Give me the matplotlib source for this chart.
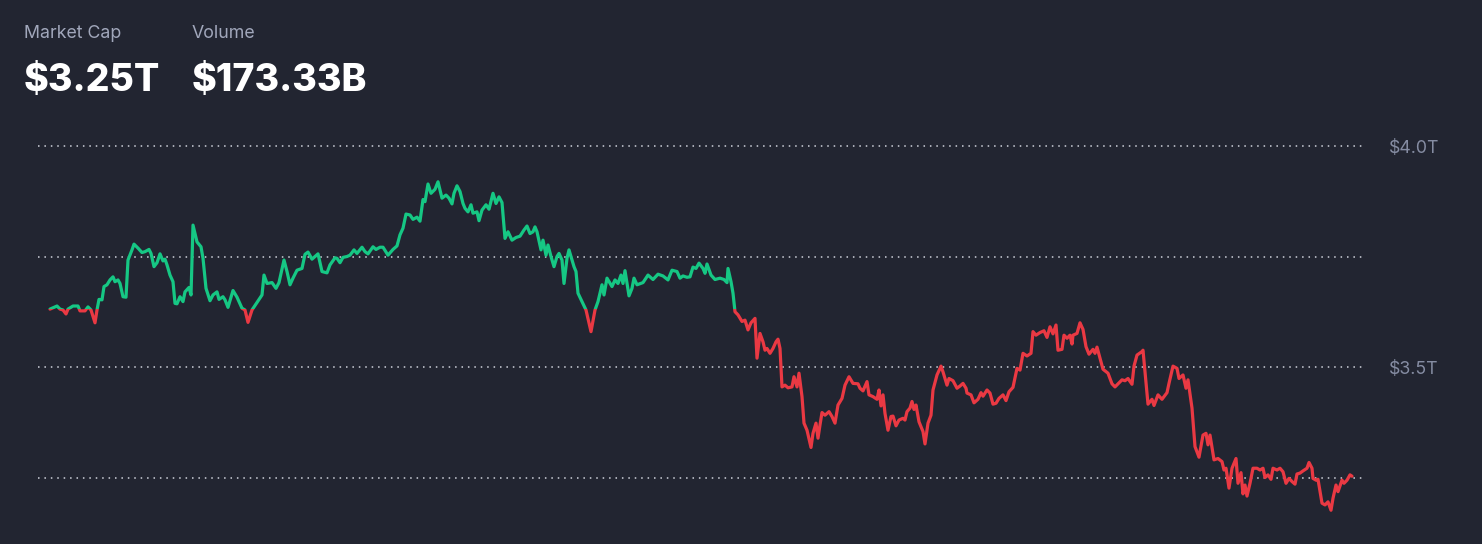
import matplotlib
matplotlib.use("Agg")
import matplotlib.pyplot as plt
from matplotlib.patches import Rectangle

# ---- data (time step index, market cap in billions USD) ----
t = [0, 7, 10, 13, 16, 18, 23, 28, 30, 35, 38, 41, 45, 47, 49, 52, 54, 57, 60, 63, 65, 68, 70, 73, 76, 78, 82, 84, 88, 92, 95, 99, 101, 104, 107, 110, 113, 115, 117, 120, 123, 125, 127, 130, 133, 135, 139, 141, 143, 147, 151, 153, 156, 160, 163, 167, 169, 173, 175, 178, 183, 187, 189, 192, 195, 198, 202, 207, 212, 214, 217, 222, 226, 229, 234, 237, 240, 243, 247, 252, 255, 258, 262, 265, 268, 272, 277, 280, 285, 287, 290, 293, 297, 300, 304, 307, 312, 315, 318, 323, 326, 330, 333, 338, 343, 347, 350, 353, 356, 360, 363, 367, 370, 373, 375, 378, 381, 385, 388, 392, 396, 399, 402, 404, 407, 410, 413, 415, 418, 421, 423, 427, 429, 432, 436, 439, 443, 446, 449, 452, 455, 458, 462, 466, 470, 474, 477, 480, 483, 485, 487, 491, 493, 496, 498, 501, 504, 507, 509, 512, 514, 517, 519, 522, 524, 526, 528, 532, 534, 536, 541, 545, 548, 552, 554, 557, 562, 565, 568, 571, 573, 575, 579, 582, 584, 587, 593, 598, 603, 608, 613, 618, 622, 627, 630, 633, 637, 640, 643, 646, 649, 653, 655, 657, 661, 665, 670, 674, 677, 678, 681, 683, 685, 688, 692, 695, 698, 701, 705, 707, 710, 713, 715, 717, 720, 723, 726, 728, 730, 732, 735, 738, 742, 744, 747, 749, 752, 754, 757, 761, 763, 766, 768, 770, 772, 775, 779, 782, 785, 788, 792, 795, 799, 803, 808, 810, 813, 817, 819, 823, 827, 829, 831, 833, 835, 838, 841, 843, 846, 849, 853, 855, 857, 860, 862, 864, 866, 869, 873, 875, 878, 881, 883, 887, 891, 893, 897, 899, 903, 907, 910, 913, 916, 917, 921, 924, 928, 931, 933, 937, 940, 943, 946, 949, 953, 956, 959, 963, 967, 970, 973, 977, 981, 983, 986, 990, 994, 997, 1000, 1003, 1006, 1008, 1012, 1014, 1017, 1020, 1022, 1023, 1027, 1030, 1033, 1036, 1039, 1043, 1045, 1047, 1050, 1053, 1058, 1062, 1065, 1068, 1072, 1075, 1078, 1082, 1084, 1087, 1092, 1093, 1098, 1102, 1104, 1108, 1112, 1117, 1119, 1123, 1127, 1129, 1133, 1136, 1138, 1142, 1145, 1149, 1153, 1156, 1158, 1160, 1164, 1168, 1172, 1174, 1176, 1179, 1182, 1186, 1188, 1191, 1193, 1195, 1197, 1200, 1203, 1207, 1210, 1213, 1215, 1218, 1221, 1223, 1227, 1230, 1233, 1236, 1239, 1242, 1245, 1247, 1250, 1253, 1257, 1259, 1262, 1263, 1266, 1268, 1272, 1275, 1278, 1281, 1283, 1286, 1288, 1292, 1294, 1297, 1300, 1302]
cap_b = [3631, 3638, 3631, 3629, 3620, 3631, 3638, 3638, 3627, 3627, 3636, 3629, 3600, 3629, 3653, 3652, 3682, 3686, 3697, 3704, 3693, 3697, 3689, 3659, 3658, 3742, 3765, 3778, 3769, 3759, 3761, 3766, 3757, 3727, 3736, 3756, 3740, 3744, 3731, 3708, 3693, 3644, 3643, 3659, 3648, 3670, 3680, 3663, 3821, 3783, 3772, 3746, 3678, 3650, 3663, 3670, 3653, 3659, 3652, 3635, 3673, 3658, 3648, 3633, 3629, 3601, 3629, 3646, 3663, 3708, 3689, 3691, 3678, 3691, 3742, 3716, 3686, 3701, 3719, 3723, 3755, 3760, 3744, 3750, 3756, 3716, 3713, 3731, 3747, 3746, 3736, 3748, 3750, 3753, 3765, 3757, 3771, 3761, 3756, 3772, 3766, 3771, 3771, 3753, 3766, 3774, 3799, 3814, 3846, 3844, 3834, 3839, 3830, 3879, 3874, 3914, 3893, 3902, 3919, 3882, 3889, 3882, 3869, 3893, 3910, 3897, 3870, 3859, 3851, 3867, 3848, 3851, 3831, 3855, 3867, 3857, 3893, 3870, 3885, 3872, 3791, 3806, 3787, 3793, 3796, 3810, 3819, 3802, 3806, 3817, 3806, 3765, 3787, 3753, 3776, 3750, 3727, 3750, 3757, 3742, 3689, 3746, 3765, 3742, 3727, 3716, 3667, 3648, 3638, 3629, 3580, 3629, 3648, 3686, 3663, 3701, 3682, 3697, 3689, 3708, 3689, 3718, 3661, 3678, 3701, 3686, 3691, 3708, 3698, 3710, 3706, 3697, 3719, 3716, 3701, 3706, 3703, 3704, 3726, 3723, 3735, 3723, 3712, 3733, 3708, 3698, 3701, 3698, 3691, 3723, 3693, 3667, 3625, 3618, 3603, 3606, 3584, 3600, 3610, 3520, 3576, 3557, 3538, 3542, 3531, 3542, 3557, 3563, 3542, 3455, 3459, 3453, 3455, 3478, 3455, 3486, 3433, 3373, 3357, 3318, 3350, 3373, 3339, 3369, 3397, 3391, 3399, 3388, 3373, 3414, 3429, 3459, 3478, 3463, 3462, 3452, 3446, 3467, 3437, 3433, 3427, 3448, 3412, 3437, 3395, 3357, 3388, 3389, 3367, 3380, 3384, 3380, 3399, 3407, 3422, 3404, 3414, 3376, 3354, 3326, 3373, 3391, 3448, 3482, 3502, 3489, 3459, 3474, 3469, 3452, 3457, 3463, 3452, 3441, 3437, 3419, 3427, 3442, 3434, 3448, 3441, 3416, 3418, 3429, 3437, 3424, 3444, 3454, 3497, 3493, 3531, 3525, 3531, 3580, 3572, 3578, 3582, 3567, 3591, 3575, 3595, 3538, 3540, 3572, 3565, 3572, 3552, 3572, 3576, 3600, 3585, 3546, 3529, 3540, 3531, 3545, 3520, 3495, 3486, 3462, 3455, 3462, 3471, 3469, 3474, 3461, 3502, 3527, 3535, 3538, 3416, 3427, 3413, 3437, 3427, 3442, 3463, 3502, 3497, 3474, 3482, 3452, 3471, 3407, 3320, 3296, 3346, 3350, 3324, 3346, 3290, 3293, 3286, 3267, 3271, 3226, 3271, 3293, 3237, 3261, 3213, 3233, 3208, 3237, 3271, 3271, 3267, 3271, 3250, 3256, 3246, 3271, 3267, 3271, 3263, 3237, 3248, 3241, 3235, 3258, 3260, 3265, 3271, 3284, 3271, 3248, 3244, 3246, 3192, 3188, 3195, 3176, 3203, 3233, 3218, 3244, 3237, 3244, 3256, 3253]

grid_ticks = [3250, 3500, 3750, 4000]
tick_labels = ["", "$3.5T", "", "$4.0T"]
header_labels = ["Market Cap", "Volume"]
header_values = ["$3.25T", "$173.33B"]

BG = "#222531"
GREEN = "#16c784"
RED = "#ea3943"
LABEL = "#a1a7bb"
TICK = "#858ca2"

plt.rcParams['font.family'] = ['Inter', 'DejaVu Sans']

W, H = 1482, 544
fig = plt.figure(figsize=(W / 100, H / 100), dpi=100, facecolor=BG)

left_px, right_px, top_px, bot_px = 38, 1365, 130, 520
ax = fig.add_axes([left_px / W, 1 - bot_px / H, (right_px - left_px) / W, (bot_px - top_px) / H])
ax.set_facecolor(BG)

ax.set_xlim(-12, 1315)
ax.set_ylim(3153.9, 4036.2)

for g in grid_ticks:
    ax.axhline(g, color="#d0d3dc", lw=1.1, dashes=(1.0, 3.2), zorder=1)

base = cap_b[0]
lg, = ax.plot(t, cap_b, color=GREEN, lw=2.3, solid_joinstyle='round', solid_capstyle='round', zorder=3)
lr, = ax.plot(t, cap_b, color=RED, lw=2.3, solid_joinstyle='round', solid_capstyle='round', zorder=3)
lg.set_clip_path(Rectangle((-100, base), 2000, 2000, transform=ax.transData))
lr.set_clip_path(Rectangle((-100, base - 2000), 2000, 2000, transform=ax.transData))

ax.set_yticks(grid_ticks)
ax.set_yticklabels(tick_labels)
ax.yaxis.tick_right()
ax.tick_params(axis='y', length=0, pad=17, labelsize=12.8, labelcolor=TICK)
ax.set_xticks([])
for s in ax.spines.values():
    s.set_visible(False)

xs = [24, 192]
for x, lab, val in zip(xs, header_labels, header_values):
    fig.text(x / W, 1 - 37.7 / H, lab, color=LABEL, fontsize=12.8, va='baseline', ha='left')
    fig.text(x / W, 1 - 90.7 / H, val, color="white", fontsize=27, fontweight='heavy', va='baseline', ha='left')

fig.savefig("out.png", dpi=100, facecolor=BG)
